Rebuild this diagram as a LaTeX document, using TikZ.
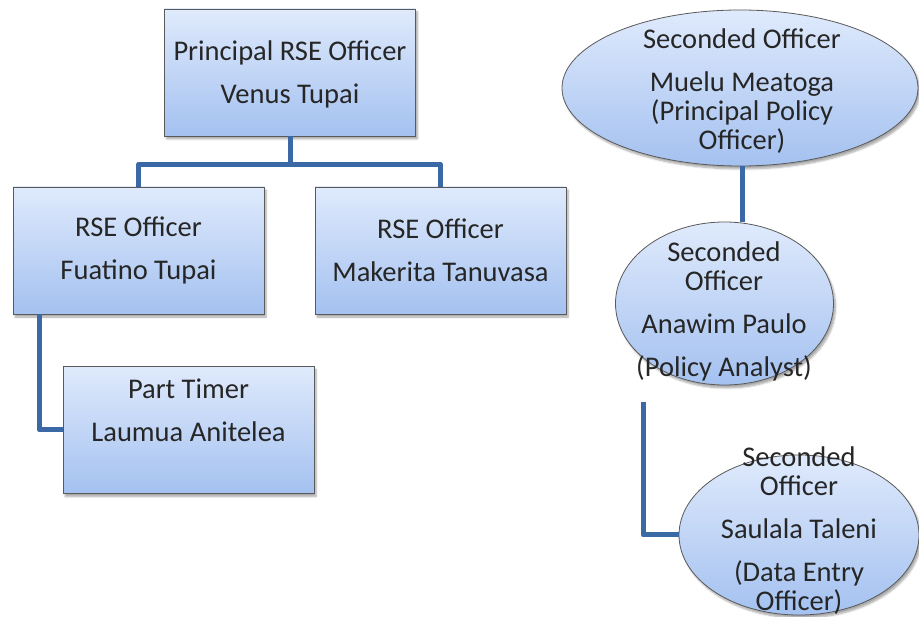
\documentclass[tikz,border=0pt]{standalone}
\usepackage{fontspec}
\setmainfont{Carlito}
\usetikzlibrary{shapes.geometric,shadows.blur}
\definecolor{fillTop}{HTML}{DFEAFC}
\definecolor{fillBot}{HTML}{A4C1F0}
\definecolor{edgeGray}{HTML}{5A5A5A}
\definecolor{linkBlue}{HTML}{3A69A6}
\definecolor{txtGray}{HTML}{262626}
\tikzset{
  orgshade/.style={top color=fillTop, bottom color=fillBot, draw=edgeGray, line width=0.8pt,
    blur shadow={shadow xshift=2pt, shadow yshift=-3pt, shadow blur steps=6, shadow opacity=35}},
  orgbox/.style={orgshade, rectangle, minimum width=251pt, minimum height=127pt, inner sep=0pt},
  orgoval/.style={orgshade, ellipse, inner sep=0pt},
  label txt/.style={font=\fontsize{28.5}{29}\selectfont, text=txtGray, align=center, inner sep=0pt},
  link/.style={draw=linkBlue, line width=5pt, line join=round},
}
\begin{document}
\begin{tikzpicture}[x=1pt,y=-1pt]
\useasboundingbox (0,0) rectangle (919,617);

% left-hand unit: rectangles
\node[orgbox] (top) at (290,72.5) {};
\node[orgbox] (rseA) at (138.5,250.5) {};
\node[orgbox] (rseB) at (440.5,250.5) {};
\node[orgbox] (part) at (188.5,430) {};

% right-hand unit: ovals
\node[orgoval, minimum width=356pt, minimum height=156pt] (sec1) at (740,88) {};
\node[orgoval, minimum width=218pt, minimum height=163pt] (sec2) at (724.5,303.5) {};
\node[orgoval, minimum width=240pt, minimum height=160pt] (sec3) at (799,535) {};

% connectors
\coordinate (j) at ([yshift=-28pt]top.south);
\draw[link] (top.south) -- (j);
\draw[link] (rseA.north) |- (j) -| (rseB.north);
\draw[link] ([xshift=27pt]rseA.south west) |- (part.west);
\draw[link] (742,0 |- sec1.south) -- (742,0 |- sec2.north);
\coordinate (c2) at (643,402);
\draw[link] (c2) |- (sec3.west);

% texts
\node[label txt] (topT) at (290,74) {Principal RSE Officer\\[14pt]Venus Tupai};
\node[label txt] (rseAT) at (138.5,250.5) {RSE Officer\\[14pt]Fuatino Tupai};
\node[label txt] (rseBT) at (440.5,250.5) {RSE Officer\\[14pt]Makerita Tanuvasa};
\node[label txt] (partT) at (188.5,410) {Part Timer\\[14pt]Laumua Anitelea};
\node[label txt] (sec1T) at (742,91) {Seconded Officer\\[14pt]Muelu Meatoga\\(Principal Policy\\Officer)};
\node[label txt] (sec2T) at (724,311) {Seconded\\Officer\\[14pt]Anawim Paulo\\[14pt](Policy Analyst)};
\node[label txt] (sec3T) at (799,531) {Seconded\\Officer\\[14pt]Saulala Taleni\\[14pt](Data Entry\\Officer)};
\end{tikzpicture}
\end{document}
